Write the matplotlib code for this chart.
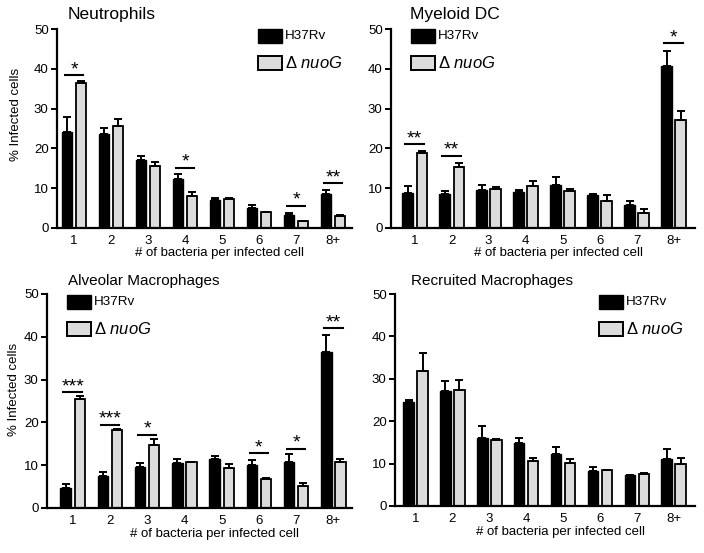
import numpy as np
import matplotlib
matplotlib.use("Agg")
import matplotlib.pyplot as plt
from matplotlib.patches import Rectangle

plt.rcParams['font.family'] = ['Liberation Sans', 'DejaVu Sans']
plt.rcParams['mathtext.fontset'] = 'custom'
plt.rcParams['mathtext.rm'] = 'Liberation Sans'
plt.rcParams['mathtext.it'] = 'Liberation Sans:italic'

# categories
cats = ['1', '2', '3', '4', '5', '6', '7', '8+']

# Neutrophils
neut_wt = [24.2, 23.7, 17.2, 12.3, 7.0, 4.9, 3.3, 8.6]
neut_wt_err = [3.8, 1.5, 1.0, 1.3, 0.5, 1.0, 0.5, 1.0]
neut_ko = [36.4, 25.6, 15.5, 8.1, 7.2, 3.9, 1.7, 3.0]
neut_ko_err = [0.6, 1.7, 1.0, 0.9, 0.3, 0.2, 0.1, 0.2]
neut_sig = [(0, 38.4, '*'), (3, 15.2, '*'), (6, 5.6, '*'), (7, 11.2, '**')]

# Myeloid DC
dc_wt = [8.7, 8.6, 9.6, 9.0, 10.9, 8.2, 5.9, 40.7]
dc_wt_err = [1.9, 0.8, 1.1, 0.6, 2.0, 0.4, 0.9, 3.7]
dc_ko = [18.8, 15.3, 9.8, 10.6, 9.4, 6.9, 3.7, 27.2]
dc_ko_err = [0.6, 1.0, 0.5, 1.1, 0.4, 1.3, 1.1, 2.1]
dc_sig = [(0, 21.0, '**'), (1, 18.2, '**'), (7, 46.4, '*')]

# Alveolar macrophages
am_wt = [4.6, 7.4, 9.5, 10.5, 11.5, 10.1, 10.8, 36.5]
am_wt_err = [0.9, 0.9, 0.9, 0.9, 0.7, 1.2, 1.8, 4.0]
am_ko = [25.4, 18.3, 14.8, 10.7, 9.3, 6.8, 5.1, 10.8]
am_ko_err = [0.7, 0.2, 1.3, 0.1, 1.0, 0.2, 0.8, 0.7]
am_sig = [(0, 27.1, '***'), (1, 19.5, '***'), (2, 17.1, '*'),
          (5, 12.8, '*'), (6, 13.9, '*'), (7, 42.0, '**')]

# Recruited macrophages
rm_wt = [24.6, 27.2, 16.1, 14.9, 12.3, 8.3, 7.2, 11.2]
rm_wt_err = [0.4, 2.3, 2.8, 1.2, 1.7, 0.8, 0.1, 2.2]
rm_ko = [31.9, 27.3, 15.5, 10.6, 10.2, 8.4, 7.6, 9.8]
rm_ko_err = [4.3, 2.4, 0.2, 0.8, 0.9, 0.1, 0.3, 1.5]
rm_sig = []

W, H = 704, 553
GRAY = '#dcdcdc'

fig = plt.figure(figsize=(W / 100, H / 100), dpi=100)


def px_axes(left, right, top, bottom):
    # axes from pixel box
    return fig.add_axes([left / W, 1 - bottom / H, (right - left) / W, (bottom - top) / H])


def draw_panel(ax, wt, wt_err, ko, ko_err, sig, xlim, ylab_pos=None):
    x = np.arange(len(cats))
    off, bw = 0.19, 0.28
    ax.bar(x - off, wt, bw, color='black', edgecolor='black', lw=1.0,
           yerr=[np.zeros(len(wt)), wt_err], capsize=2.8,
           error_kw=dict(elinewidth=1.4, capthick=1.4, ecolor='black'))
    ax.bar(x + off, ko, bw, color=GRAY, edgecolor='black', lw=1.3,
           yerr=[np.zeros(len(ko)), ko_err], capsize=2.8,
           error_kw=dict(elinewidth=1.4, capthick=1.4, ecolor='black'))
    for i, yv, s in sig:
        ax.plot([i - 0.25, i + 0.25], [yv, yv], color='black', lw=1.5, clip_on=False)
        ax.text(i, yv + 0.2, s, ha='center', va='baseline', fontsize=14)
    ax.set_xlim(*xlim)
    ax.set_ylim(0, 50)
    ax.set_yticks([0, 10, 20, 30, 40, 50])
    ax.set_xticks(x)
    ax.set_xticklabels(cats)
    for sp in ['top', 'right']:
        ax.spines[sp].set_visible(False)
    for sp in ['left', 'bottom']:
        ax.spines[sp].set_linewidth(1.6)
    ax.tick_params(axis='y', length=4.5, width=1.4, labelsize=9.5, pad=1.5)
    ax.tick_params(axis='x', length=0, labelsize=9.5, pad=5)
    ax.set_xlabel('# of bacteria per infected cell', fontsize=9.5)
    ax.xaxis.set_label_coords(0.55, -0.095)
    if ylab_pos is not None:
        ax.set_ylabel('% Infected cells', fontsize=9.5)
        ax.yaxis.set_label_coords(*ylab_pos)


def legend_at(x0, y0):
    # two boxes at pixel position x0, y0 (top-left of black box)
    bw, bh, gap = 24, 14, 27
    fig.add_artist(Rectangle((x0 / W, 1 - (y0 + bh) / H), bw / W, bh / H,
                             transform=fig.transFigure, facecolor='black', edgecolor='black', lw=1))
    fig.add_artist(Rectangle((x0 / W, 1 - (y0 + gap + bh) / H), bw / W, bh / H,
                             transform=fig.transFigure, facecolor=GRAY, edgecolor='black', lw=1.4))
    fig.text((x0 + bw + 3) / W, 1 - (y0 + bh / 2) / H, 'H37Rv', fontsize=9.7,
             va='center', ha='left')
    fig.text((x0 + bw + 3) / W, 1 - (y0 + gap + bh / 2) / H, r'Δ $\mathit{nuoG}$',
             fontsize=12, va='center', ha='left')


ax1 = px_axes(57, 352, 29, 228)
draw_panel(ax1, neut_wt, neut_wt_err, neut_ko, neut_ko_err, neut_sig, (-0.46, 7.51), (-0.119, 0.57))
ax2 = px_axes(391, 695, 29, 228)
draw_panel(ax2, dc_wt, dc_wt_err, dc_ko, dc_ko_err, dc_sig, (-0.64, 7.58))
ax3 = px_axes(47, 352, 294, 508)
draw_panel(ax3, am_wt, am_wt_err, am_ko, am_ko_err, am_sig, (-0.69, 7.5), (-0.089, 0.555))
ax4 = px_axes(395, 695, 294, 506)
draw_panel(ax4, rm_wt, rm_wt_err, rm_ko, rm_ko_err, rm_sig, (-0.56, 7.58))

fig.text(68 / W, 1 - 15 / H, 'Neutrophils', fontsize=12.5, va='center', ha='left')
fig.text(410 / W, 1 - 15 / H, 'Myeloid DC', fontsize=12.5, va='center', ha='left')
fig.text(68 / W, 1 - 281 / H, 'Alveolar Macrophages', fontsize=11, va='center', ha='left')
fig.text(411 / W, 1 - 281 / H, 'Recruited Macrophages', fontsize=11, va='center', ha='left')

legend_at(258, 29)
legend_at(411, 29)
legend_at(67, 295)
legend_at(599, 295)

fig.savefig('out.png', dpi=100)
